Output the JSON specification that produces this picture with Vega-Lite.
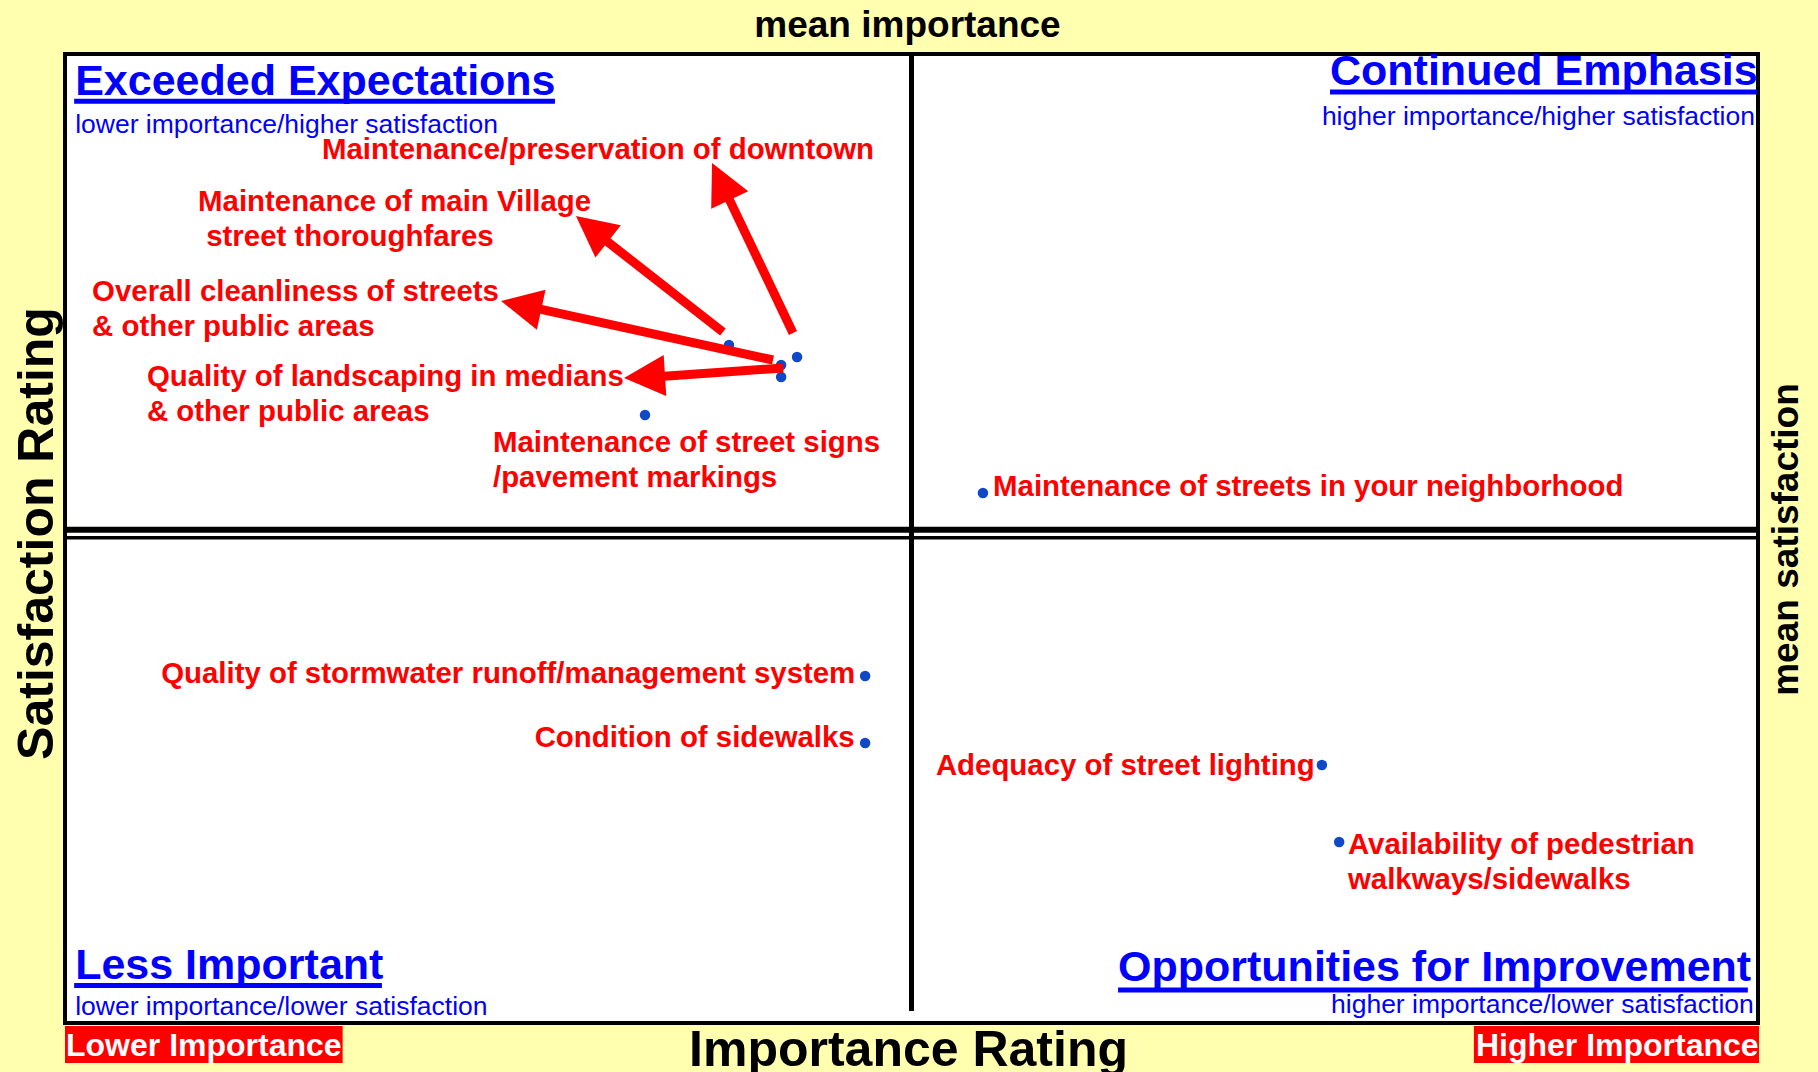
{
  "$schema": "https://vega.github.io/schema/vega-lite/v6.json",
  "width": 1693,
  "height": 969,
  "autosize": {"type": "none"},
  "padding": {"left": 65, "top": 54, "right": 60, "bottom": 49},
  "background": "#FFFFAF",
  "config": {
    "view": {"stroke": "#000000", "strokeWidth": 4, "fill": "#FFFFFF"},
    "text": {"font": "Liberation Sans"},
    "axis": {"labels": false, "ticks": false, "domain": false, "grid": false, "titleFont": "Liberation Sans", "titleFontWeight": "bold", "titleColor": "#000000"}
  },
  "datasets": {
    "items": [
      {"item": "Maintenance/preservation of downtown", "importance": 21.62, "satisfaction": 68.73, "label": ["Maintenance/preservation of downtown"], "lx": 7.59, "ly": 89.13},
      {"item": "Overall cleanliness of streets & other public areas", "importance": 21.15, "satisfaction": 67.91, "label": ["Overall cleanliness of streets", "& other public areas"], "lx": 0.80, "ly": 74.56},
      {"item": "Quality of landscaping in medians & other public areas", "importance": 21.15, "satisfaction": 66.67, "label": ["Quality of landscaping in medians", "& other public areas"], "lx": 2.42, "ly": 65.70},
      {"item": "Maintenance of main Village street thoroughfares", "importance": 19.61, "satisfaction": 69.97, "label": ["Maintenance of main Village", "\u200b\u00a0street thoroughfares"], "lx": 3.93, "ly": 83.80},
      {"item": "Maintenance of street signs/pavement markings", "importance": 17.13, "satisfaction": 62.74, "label": ["Maintenance of street signs", "/pavement markings"], "lx": 12.64, "ly": 58.90},
      {"item": "Maintenance of streets in your neighborhood", "importance": 27.11, "satisfaction": 54.70, "label": ["Maintenance of streets in your neighborhood"], "lx": 27.41, "ly": 54.36},
      {"item": "Quality of stormwater runoff/management system", "importance": 23.63, "satisfaction": 35.81, "label": ["Quality of stormwater runoff/management system"], "lx": 2.84, "ly": 35.06},
      {"item": "Condition of sidewalks", "importance": 23.63, "satisfaction": 28.90, "label": ["Condition of sidewalks"], "lx": 13.87, "ly": 28.46},
      {"item": "Adequacy of street lighting", "importance": 37.12, "satisfaction": 26.62, "label": ["Adequacy of street lighting"], "lx": 25.72, "ly": 25.56},
      {"item": "Availability of pedestrian walkways/sidewalks", "importance": 37.63, "satisfaction": 18.68, "label": ["Availability of pedestrian", "walkways/sidewalks"], "lx": 37.89, "ly": 17.41}
    ],
    "arrows": [
      {"item": "Maintenance/preservation of downtown", "x_tail": 21.50, "y_tail": 71.21, "x_end": 19.41, "y_end": 86.52, "x_tip": 19.11, "y_tip": 88.75, "angle": 334.5},
      {"item": "Maintenance of main Village street thoroughfares", "x_tail": 19.43, "y_tail": 71.31, "x_end": 15.64, "y_end": 81.67, "x_tip": 15.09, "y_tip": 83.28, "angle": 308.3},
      {"item": "Overall cleanliness of streets & other public areas", "x_tail": 20.91, "y_tail": 68.42, "x_end": 13.59, "y_end": 74.01, "x_tip": 12.88, "y_tip": 74.51, "angle": 282.2},
      {"item": "Quality of landscaping in medians & other public areas", "x_tail": 21.21, "y_tail": 67.60, "x_end": 17.27, "y_end": 66.63, "x_tip": 16.51, "y_tip": 66.56, "angle": 266.4}
    ],
    "quadrants": [
      {"quadrant": "Exceeded Expectations", "tx": 0.30, "ty": 95.80, "ux1": 0.27, "ux2": 14.47, "uy": 95.13, "subtitle": "lower importance/higher satisfaction", "sx": 0.30, "sy": 91.80},
      {"quadrant": "Continued Emphasis", "tx": 37.36, "ty": 96.75, "ux1": 37.36, "ux2": 49.97, "uy": 96.08, "subtitle": "higher importance/higher satisfaction", "sx": 37.12, "sy": 92.72},
      {"quadrant": "Less Important", "tx": 0.30, "ty": 4.51, "ux1": 0.27, "ux2": 9.36, "uy": 3.86, "subtitle": "lower importance/lower satisfaction", "sx": 0.30, "sy": 0.83},
      {"quadrant": "Opportunities for Improvement", "tx": 31.10, "ty": 4.30, "ux1": 31.10, "ux2": 49.70, "uy": 3.40, "subtitle": "higher importance/lower satisfaction", "sx": 37.39, "sy": 1.04}
    ],
    "boxes": [
      {"text": "Lower Importance", "x1": 0, "x2": 8.20, "y1": -0.31, "y2": -4.13, "tx": 0.03, "ty": -3.41},
      {"text": "Higher Importance", "x1": 41.61, "x2": 50.03, "y1": -0.31, "y2": -4.13, "tx": 41.67, "ty": -3.41}
    ],
    "means": [
      {"mean_importance": 25.0, "mean_satisfaction": 50.5}
    ]
  },
  "layer": [
    {
      "data": {"name": "means"},
      "mark": {"type": "rule", "strokeWidth": 5, "color": "#000000"},
      "encoding": {
        "x": {"field": "mean_importance", "type": "quantitative", "scale": {"domain": [0, 50], "nice": false, "zero": false}, "axis": null},
        "y": {"datum": 100, "type": "quantitative", "scale": {"domain": [0, 100], "nice": false, "zero": false}, "axis": null},
        "y2": {"datum": 1.24}
      }
    },
    {
      "data": {"name": "means"},
      "mark": {"type": "rule", "strokeWidth": 6, "color": "#000000", "yOffset": -4},
      "encoding": {
        "y": {"field": "mean_satisfaction", "type": "quantitative", "scale": {"domain": [0, 100], "nice": false, "zero": false}, "axis": null}
      }
    },
    {
      "data": {"name": "means"},
      "mark": {"type": "rule", "strokeWidth": 3.5, "color": "#000000", "yOffset": 4},
      "encoding": {
        "y": {"field": "mean_satisfaction", "type": "quantitative", "scale": {"domain": [0, 100], "nice": false, "zero": false}, "axis": null}
      }
    },
    {
      "data": {"name": "boxes"},
      "mark": {"type": "rect", "fill": "#FF0000"},
      "encoding": {
        "x": {"field": "x1", "type": "quantitative", "scale": {"domain": [0, 50], "nice": false, "zero": false}, "axis": null},
        "x2": {"field": "x2"},
        "y": {"field": "y1", "type": "quantitative", "scale": {"domain": [0, 100], "nice": false, "zero": false}, "axis": null},
        "y2": {"field": "y2"}
      }
    },
    {
      "data": {"name": "boxes"},
      "mark": {"type": "text", "align": "left", "baseline": "alphabetic", "fontSize": 32, "fontWeight": "bold", "color": "#FFFFFF"},
      "encoding": {
        "x": {"field": "tx", "type": "quantitative", "scale": {"domain": [0, 50], "nice": false, "zero": false}, "axis": null},
        "y": {"field": "ty", "type": "quantitative", "scale": {"domain": [0, 100], "nice": false, "zero": false}, "axis": null},
        "text": {"field": "text", "type": "nominal"}
      }
    },
    {
      "data": {"name": "quadrants"},
      "mark": {"type": "rule", "strokeWidth": 5, "color": "#0000FF"},
      "encoding": {
        "x": {"field": "ux1", "type": "quantitative", "scale": {"domain": [0, 50], "nice": false, "zero": false}, "axis": null},
        "x2": {"field": "ux2"},
        "y": {"field": "uy", "type": "quantitative", "scale": {"domain": [0, 100], "nice": false, "zero": false}, "axis": null}
      }
    },
    {
      "data": {"name": "quadrants"},
      "mark": {"type": "text", "align": "left", "baseline": "alphabetic", "fontSize": 43, "fontWeight": "bold", "color": "#0000FF"},
      "encoding": {
        "x": {"field": "tx", "type": "quantitative", "scale": {"domain": [0, 50], "nice": false, "zero": false}, "axis": null},
        "y": {"field": "ty", "type": "quantitative", "scale": {"domain": [0, 100], "nice": false, "zero": false}, "axis": null},
        "text": {"field": "quadrant", "type": "nominal"}
      }
    },
    {
      "data": {"name": "quadrants"},
      "mark": {"type": "text", "align": "left", "baseline": "alphabetic", "fontSize": 26.5, "color": "#0000FF"},
      "encoding": {
        "x": {"field": "sx", "type": "quantitative", "scale": {"domain": [0, 50], "nice": false, "zero": false}, "axis": null},
        "y": {"field": "sy", "type": "quantitative", "scale": {"domain": [0, 100], "nice": false, "zero": false}, "axis": null},
        "text": {"field": "subtitle", "type": "nominal"}
      }
    },
    {
      "data": {"name": "items"},
      "mark": {"type": "point", "shape": "circle", "filled": true, "size": 110, "color": "#1048C8", "opacity": 1},
      "encoding": {
        "x": {"field": "importance", "type": "quantitative", "scale": {"domain": [0, 50], "nice": false, "zero": false},
          "axis": {"orient": "bottom", "title": "Importance Rating", "titleFontSize": 50, "titleBaseline": "alphabetic", "titleAlign": "center", "titleX": 843, "titleY": 42}},
        "y": {"field": "satisfaction", "type": "quantitative", "scale": {"domain": [0, 100], "nice": false, "zero": false},
          "axis": {"orient": "left", "title": "Satisfaction Rating", "titleFontSize": 50, "titleAngle": 270, "titleBaseline": "alphabetic", "titleAlign": "center", "titleX": -13, "titleY": 479}}
      }
    },
    {
      "data": {"name": "items"},
      "mark": {"type": "text", "align": "left", "baseline": "alphabetic", "fontSize": 29.4, "fontWeight": "bold", "color": "#FF0000", "lineHeight": 35},
      "encoding": {
        "x": {"field": "lx", "type": "quantitative", "scale": {"domain": [0, 50], "nice": false, "zero": false},
          "axis": {"orient": "top", "title": "mean importance", "titleFontSize": 37, "titleBaseline": "alphabetic", "titleAlign": "center", "titleX": 842, "titleY": -18}},
        "y": {"field": "ly", "type": "quantitative", "scale": {"domain": [0, 100], "nice": false, "zero": false},
          "axis": {"orient": "right", "title": "mean satisfaction", "titleFontSize": 37, "titleAngle": 270, "titleBaseline": "alphabetic", "titleAlign": "center", "titleX": 39, "titleY": 485}},
        "text": {"field": "label", "type": "nominal"}
      }
    },
    {
      "data": {"name": "arrows"},
      "mark": {"type": "rule", "strokeWidth": 9, "color": "#FF0000", "strokeCap": "butt"},
      "encoding": {
        "x": {"field": "x_tail", "type": "quantitative", "scale": {"domain": [0, 50], "nice": false, "zero": false}, "axis": null},
        "y": {"field": "y_tail", "type": "quantitative", "scale": {"domain": [0, 100], "nice": false, "zero": false}, "axis": null},
        "x2": {"field": "x_end"},
        "y2": {"field": "y_end"}
      }
    },
    {
      "data": {"name": "arrows"},
      "mark": {"type": "point", "shape": "M0,0L-0.5,1L0.5,1Z", "filled": true, "size": 6724, "color": "#FF0000", "opacity": 1, "strokeWidth": 0},
      "encoding": {
        "x": {"field": "x_tip", "type": "quantitative", "scale": {"domain": [0, 50], "nice": false, "zero": false}, "axis": null},
        "y": {"field": "y_tip", "type": "quantitative", "scale": {"domain": [0, 100], "nice": false, "zero": false}, "axis": null},
        "angle": {"field": "angle", "type": "quantitative", "scale": null}
      }
    }
  ],
  "resolve": {"axis": {"x": "independent", "y": "independent"}}
}
